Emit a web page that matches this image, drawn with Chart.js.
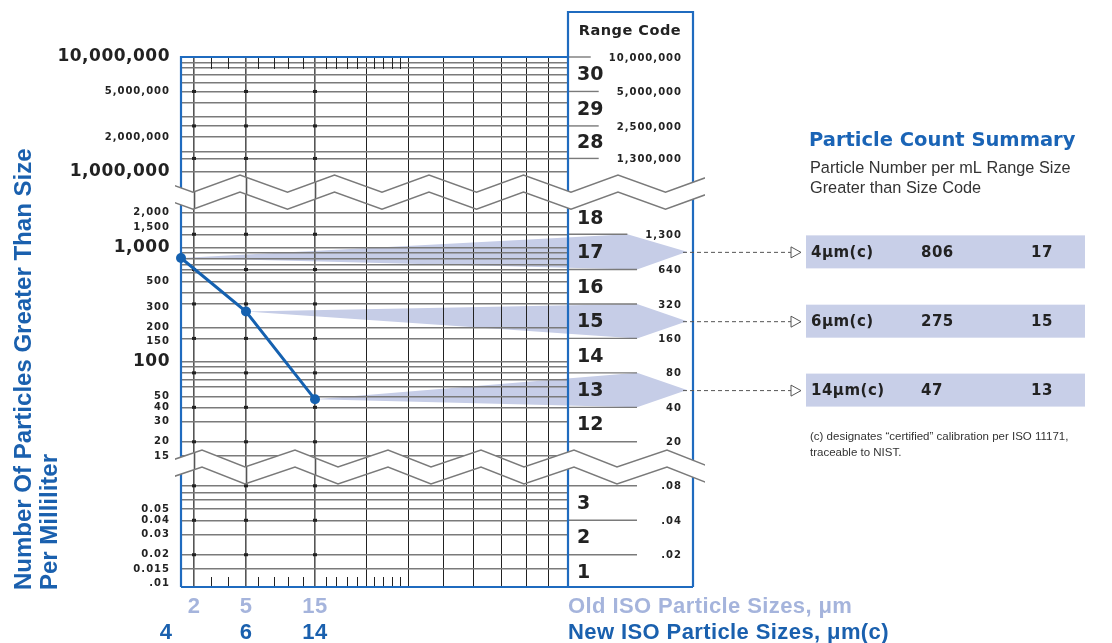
<!DOCTYPE html>
<html>
<head>
<meta charset="utf-8">
<script src="https://cdn.jsdelivr.net/npm/chart.js@4.4.1/dist/chart.umd.min.js"></script>
<style>
  html, body { margin: 0; padding: 0; background: #fff; }
  #wrap { position: relative; width: 1112px; height: 643px; }
</style>
</head>
<body>
<div id="wrap"><canvas id="isoChart"></canvas></div>
<script>
// --- data ---
const newSizes = ["4", "6", "14"];
const oldSizes = ["2", "5", "15"];
const counts = [806, 275, 47];
const codes = [17, 15, 13];
const rowNames = ["4μm(c)", "6μm(c)", "14μm(c)"];

const rangeCodes = [30, 29, 28, 18, 17, 16, 15, 14, 13, 12, 3, 2, 1];
const rangeUpper = [1e7, 5e6, 2.5e6, 2500, 1300, 640, 320, 160, 80, 40, 0.08, 0.04, 0.02];
const rangeLower = [5e6, 2.5e6, 1.3e6, 1300, 640, 320, 160, 80, 40, 20, 0.04, 0.02, 0.01];

const boundValues = [1e7, 5e6, 2.5e6, 1.3e6, 1300, 640, 320, 160, 80, 40, 20, 0.08, 0.04, 0.02];
const boundLabels = ["10,000,000", "5,000,000", "2,500,000", "1,300,000", "1,300", "640", "320",
  "160", "80", "40", "20", ".08", ".04", ".02"];

const leftValues = [1e7, 5e6, 2e6, 1e6, 2000, 1500, 1000, 500, 300, 200, 150, 100,
  50, 40, 30, 20, 15, 0.05, 0.04, 0.03, 0.02, 0.015, 0.01];
const leftLabels = ["10,000,000", "5,000,000", "2,000,000", "1,000,000", "2,000", "1,500", "1,000",
  "500", "300", "200", "150", "100", "50", "40", "30", "20", "15",
  "0.05", "0.04", "0.03", "0.02", "0.015", ".01"];
const bigLabels = ["10,000,000", "1,000,000", "1,000", "100"];

const gridValues = [9e6, 8e6, 7e6, 6e6, 5e6, 4e6, 3e6, 2.5e6, 2e6, 1.5e6, 1.3e6, 1e6,
  2000, 1500, 1300, 1000, 900, 800, 700, 640, 600, 500, 400, 320, 200, 160,
  100, 90, 80, 70, 60, 50, 40, 30, 20, 15,
  0.08, 0.07, 0.06, 0.05, 0.04, 0.03, 0.02, 0.015];

// --- layout (x in chart units across the grid) ---
const xGridCols = [13, 65, 134, 185, 227, 262, 292, 320, 345, 367];
const xMinorCols = [30, 47, 77, 93, 107, 122, 145, 155, 166, 176, 193, 202, 211, 219];
const pointCols = [0, 65, 134];
const oldLabelCols = [13, 65, 134];
const newLabelCols = [-15, 65, 134];
const breaks = [
  { hi: 1e6, lo: 2000, trough: 193, peak: 47, period: 94.5, dy: 0 },
  { hi: 15, lo: 0.08, trough: 152, peak: 50, period: 93, dy: -4 }
];

const BLUE = "#1f6bbf";
const DARK_BLUE = "#1a60ae";
const LIGHT_BLUE = "#a5b4dc";
const WEDGE = "#c6cde7";
const BOX = "#c8cfe8";
const GRID = "#7a7a7a";
const INK = "#222";
const BOX_X = 568, BOX_R = 693, BOX_TOP = 12;
const TIP_X = 687;

// broken log scale: each section is log2 with its own offset
function yv(v) {
  const off = v >= 1e5 ? -7.8735 : v >= 1 ? -0.108 : 6.58;
  return Math.log2(v) + off;
}

function setFont(ctx, size, bold, fam, spacing) {
  ctx.font = (bold ? "bold " : "") + size + "px " + fam;
  ctx.letterSpacing = (spacing || 0) + "px";
}

function smallFont(ctx) { setFont(ctx, 10, true, "'DejaVu Sans'", 1); }

function boundEnd(ctx, v) {
  ctx.save();
  smallFont(ctx);
  const w = ctx.measureText(boundLabels[boundValues.indexOf(v)]).width;
  ctx.restore();
  return Math.min(637, 681 - w - 17);
}

function zigLine(b, yTop, amp) {
  const pts = [];
  for (let t = b.trough - 2 * b.period; t < 800; t += b.period) {
    pts.push([t, yTop + amp]);
    pts.push([t + b.peak, yTop]);
  }
  return pts;
}

const furniture = {
  id: "furniture",
  beforeDraw(chart) {
    const { ctx, scales: { x, y } } = chart;
    ctx.save();
    ctx.fillStyle = WEDGE;
    counts.forEach((c, i) => {
      const j = rangeCodes.indexOf(codes[i]);
      const hi = rangeUpper[j], lo = rangeLower[j];
      const px = x.getPixelForValue(pointCols[i]);
      const py = y.getPixelForValue(yv(c));
      const ym = y.getPixelForValue(yv(Math.sqrt(hi * lo)));
      ctx.beginPath();
      ctx.moveTo(px, py);
      ctx.lineTo(boundEnd(ctx, hi), y.getPixelForValue(yv(hi)));
      ctx.lineTo(TIP_X, ym);
      ctx.lineTo(boundEnd(ctx, lo), y.getPixelForValue(yv(lo)));
      ctx.closePath();
      ctx.fill();
    });
    ctx.restore();
  },
  beforeDatasetsDraw(chart) {
    const { ctx, chartArea: a, scales: { x, y } } = chart;
    ctx.save();

    // range lines running into the code column
    ctx.strokeStyle = GRID;
    ctx.lineWidth = 1.4;
    boundValues.forEach(v => {
      const yy = y.getPixelForValue(yv(v));
      ctx.beginPath();
      ctx.moveTo(a.right, yy);
      ctx.lineTo(boundEnd(ctx, v), yy);
      ctx.stroke();
    });

    // dots on size columns at range boundaries
    ctx.fillStyle = INK;
    oldLabelCols.forEach(col => {
      const cx = x.getPixelForValue(col);
      boundValues.slice(1).forEach(v => {
        const cy = y.getPixelForValue(yv(v));
        ctx.fillRect(cx - 2, cy - 1.5, 4, 3);
      });
    });

    // minor ticks top and bottom
    ctx.strokeStyle = INK;
    ctx.lineWidth = 1;
    xMinorCols.forEach(col => {
      const cx = Math.round(x.getPixelForValue(col)) + 0.5;
      ctx.beginPath();
      ctx.moveTo(cx, a.top); ctx.lineTo(cx, a.top + 12);
      ctx.moveTo(cx, a.bottom); ctx.lineTo(cx, a.bottom - 10);
      ctx.stroke();
    });

    // blue frame
    ctx.strokeStyle = BLUE;
    ctx.lineWidth = 2.2;
    ctx.beginPath();
    ctx.moveTo(a.left, a.bottom); ctx.lineTo(a.left, a.top); ctx.lineTo(a.right, a.top);
    ctx.moveTo(a.left, a.bottom); ctx.lineTo(BOX_R, a.bottom);
    ctx.moveTo(BOX_X, a.bottom); ctx.lineTo(BOX_X, BOX_TOP); ctx.lineTo(BOX_R, BOX_TOP); ctx.lineTo(BOX_R, a.bottom);
    ctx.stroke();

    // axis breaks
    breaks.forEach(b => {
      const c = (y.getPixelForValue(yv(b.hi)) + y.getPixelForValue(yv(b.lo))) / 2 + b.dy;
      const up = zigLine(b, c - 17, 17);
      const low = zigLine(b, c, 17);
      ctx.save();
      ctx.beginPath();
      ctx.rect(175, 0, 530, 643);
      ctx.clip();
      ctx.beginPath();
      up.forEach((p, k) => k ? ctx.lineTo(p[0], p[1]) : ctx.moveTo(p[0], p[1]));
      low.slice().reverse().forEach(p => ctx.lineTo(p[0], p[1]));
      ctx.closePath();
      ctx.fillStyle = "#fff";
      ctx.fill();
      ctx.save();
      ctx.clip();
      xGridCols.forEach(col => {
        const cx = Math.round(x.getPixelForValue(col)) + 0.5;
        const thick = oldLabelCols.includes(col);
        ctx.strokeStyle = thick ? "#555" : INK;
        ctx.lineWidth = thick ? 1.6 : 1;
        ctx.beginPath(); ctx.moveTo(cx, c - 20); ctx.lineTo(cx, c + 20); ctx.stroke();
      });
      ctx.restore();
      ctx.strokeStyle = "#7a7a7a";
      ctx.lineWidth = 1.5;
      [up, low].forEach(pts => {
        ctx.beginPath();
        pts.forEach((p, k) => k ? ctx.lineTo(p[0], p[1]) : ctx.moveTo(p[0], p[1]));
        ctx.stroke();
      });
      ctx.restore();
    });
    ctx.restore();
  },
  afterDatasetsDraw(chart) {
    const { ctx, chartArea: a, scales: { x, y } } = chart;
    ctx.save();
    ctx.textBaseline = "middle";

    // left count labels
    ctx.fillStyle = INK;
    ctx.textAlign = "right";
    leftValues.forEach((v, i) => {
      const lab = leftLabels[i];
      if (bigLabels.includes(lab)) setFont(ctx, 17, true, "'DejaVu Sans'", 0.5);
      else smallFont(ctx);
      const yy = Math.min(y.getPixelForValue(yv(v)), a.bottom - 4);
      ctx.fillText(lab, 170, yy);
    });

    // range code column
    setFont(ctx, 14.5, true, "'DejaVu Sans'", 0.5);
    ctx.textAlign = "center";
    ctx.fillText("Range Code", 630, 31);
    setFont(ctx, 19, true, "'DejaVu Sans'", 0);
    ctx.textAlign = "left";
    rangeCodes.forEach((code, j) => {
      const ym = y.getPixelForValue(yv(Math.sqrt(rangeUpper[j] * rangeLower[j])));
      ctx.fillText(String(code), 577, ym + 1);
    });
    smallFont(ctx);
    ctx.textAlign = "right";
    boundValues.forEach((v, i) => {
      ctx.fillText(boundLabels[i], 682, y.getPixelForValue(yv(v)) + 1);
    });

    // y title
    ctx.save();
    ctx.rotate(-Math.PI / 2);
    ctx.textBaseline = "alphabetic";
    ctx.textAlign = "left";
    ctx.fillStyle = DARK_BLUE;
    setFont(ctx, 24, true, "'Liberation Sans'", 0);
    ctx.fillText("Number Of Particles Greater Than Size", -590, 31);
    ctx.fillText("Per Milliliter", -590, 57);
    ctx.restore();

    // bottom size labels
    setFont(ctx, 22, true, "'Liberation Sans'", 0.4);
    ctx.textAlign = "center";
    ctx.fillStyle = LIGHT_BLUE;
    oldSizes.forEach((s, i) => ctx.fillText(s, x.getPixelForValue(oldLabelCols[i]), 607));
    ctx.fillStyle = DARK_BLUE;
    newSizes.forEach((s, i) => ctx.fillText(s, x.getPixelForValue(newLabelCols[i]), 633));
    ctx.textAlign = "left";
    ctx.fillStyle = LIGHT_BLUE;
    ctx.fillText("Old ISO Particle Sizes, μm", 568, 607);
    ctx.fillStyle = DARK_BLUE;
    ctx.fillText("New ISO Particle Sizes, μm(c)", 568, 633);

    // summary panel
    setFont(ctx, 19.5, true, "'DejaVu Sans'", 0);
    ctx.fillStyle = "#1a64b6";
    ctx.fillText("Particle Count Summary", 809, 141);
    setFont(ctx, 16.3, false, "'Liberation Sans'", 0);
    ctx.fillStyle = "#333";
    ctx.fillText("Particle Number per mL Range Size", 810, 169);
    ctx.fillText("Greater than Size Code", 810, 189);

    counts.forEach((c, i) => {
      const j = rangeCodes.indexOf(codes[i]);
      const ym = y.getPixelForValue(yv(Math.sqrt(rangeUpper[j] * rangeLower[j])));
      ctx.fillStyle = BOX;
      ctx.fillRect(806, ym - 16.5, 279, 33);
      ctx.strokeStyle = "#555";
      ctx.lineWidth = 1;
      ctx.setLineDash([4, 3]);
      ctx.beginPath(); ctx.moveTo(TIP_X - 4, ym + 0.5); ctx.lineTo(791, ym + 0.5); ctx.stroke();
      ctx.setLineDash([]);
      ctx.fillStyle = "#fff";
      ctx.beginPath(); ctx.moveTo(791, ym - 5); ctx.lineTo(801, ym + 0.5); ctx.lineTo(791, ym + 6); ctx.closePath();
      ctx.fill(); ctx.stroke();
      setFont(ctx, 15, true, "'DejaVu Sans'", 0.5);
      ctx.fillStyle = INK;
      ctx.fillText(rowNames[i], 811, ym + 1);
      ctx.fillText(String(c), 921, ym + 1);
      ctx.fillText(String(codes[i]), 1031, ym + 1);
    });

    setFont(ctx, 11.5, false, "'Liberation Sans'", 0);
    ctx.fillStyle = "#333";
    ctx.fillText("(c) designates “certified” calibration per ISO 11171,", 810, 437);
    ctx.fillText("traceable to NIST.", 810, 453);
    ctx.restore();
  }
};

new Chart(document.getElementById("isoChart"), {
  type: "line",
  data: {
    datasets: [{
      data: counts.map((c, i) => ({ x: pointCols[i], y: yv(c) })),
      borderColor: "#1561b0",
      backgroundColor: "#1561b0",
      borderWidth: 3,
      pointRadius: 5,
      pointBackgroundColor: "#1561b0",
      pointBorderWidth: 0,
      tension: 0,
      clip: false
    }]
  },
  options: {
    responsive: true,
    maintainAspectRatio: false,
    animation: false,
    layout: { padding: { left: 181, right: 544, top: 57, bottom: 56 } },
    plugins: { legend: { display: false }, tooltip: { enabled: false } },
    scales: {
      x: {
        type: "linear", min: 0, max: 387,
        afterBuildTicks: s => { s.ticks = xGridCols.map(v => ({ value: v })); },
        ticks: { display: false },
        border: { display: false },
        grid: {
          drawTicks: false,
          color: c => oldLabelCols.includes(c.tick.value) ? "#555" : INK,
          lineWidth: c => oldLabelCols.includes(c.tick.value) ? 1.6 : 1
        }
      },
      y: {
        type: "linear", min: 0, max: 15.38,
        afterBuildTicks: s => { s.ticks = gridValues.map(v => ({ value: yv(v) })); },
        ticks: { display: false },
        border: { display: false },
        grid: { drawTicks: false, color: GRID, lineWidth: 1.4 }
      }
    }
  },
  plugins: [furniture]
});
</script>
</body>
</html>
